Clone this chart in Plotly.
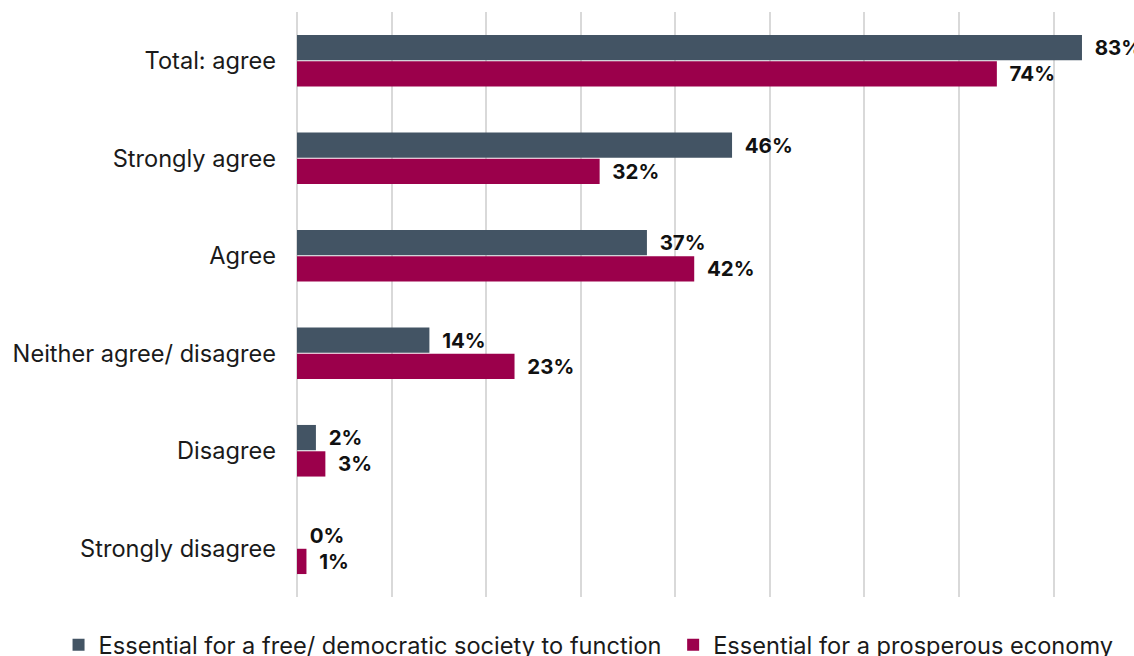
import plotly.graph_objects as go

categories = ["Total: agree", "Strongly agree", "Agree", "Neither agree/ disagree", "Disagree", "Strongly disagree"]
society = [83, 46, 37, 14, 2, 0]
economy = [74, 32, 42, 23, 3, 1]
series_names = ["Essential for a free/ democratic society to function", "Essential for a prosperous economy"]
colors = ["#435464", "#9b004b"]

fig = go.Figure()
for i, (name, vals, col) in enumerate(zip(series_names, [society, economy], colors)):
    fig.add_trace(go.Bar(
        y=categories, x=vals, name=name + ("\u00a0" if i == 0 else ""), orientation="h",
        marker=dict(color=col, line=dict(width=0)),
        text=[f"\u00a0\u00a0{v}%" for v in vals],
        textposition="outside", cliponaxis=False,
        textfont=dict(family="Inter", size=20.5, color="#111111", weight="bold"),
    ))

fig.update_layout(
    width=1134, height=656,
    margin=dict(l=0, r=0, t=12, b=59, autoexpand=False),
    paper_bgcolor="white", plot_bgcolor="white",
    barmode="group", bargap=0.46, bargroupgap=0.04,
    font=dict(family="Inter", size=23.6, color="#1a1a1a"),
    showlegend=True,
    legend=dict(orientation="h", xref="container", yref="container", x=0.519, xanchor="center",
                y=0.0168, yanchor="middle", font=dict(family="Inter", size=23.6, color="#1a1a1a"),
                traceorder="normal", itemwidth=30),
    xaxis=dict(domain=[297 / 1134, 1], range=[0, 88.5], showticklabels=False, showgrid=True,
               gridcolor="#d9d9d9", gridwidth=2, dtick=10, zeroline=True, zerolinecolor="#d9d9d9",
               zerolinewidth=2, fixedrange=True),
    yaxis=dict(autorange="reversed", showgrid=False, ticks="", ticklabelstandoff=20,
               tickfont=dict(family="Inter", size=23.6, color="#1a1a1a")),
)

fig.write_html("out.html")
